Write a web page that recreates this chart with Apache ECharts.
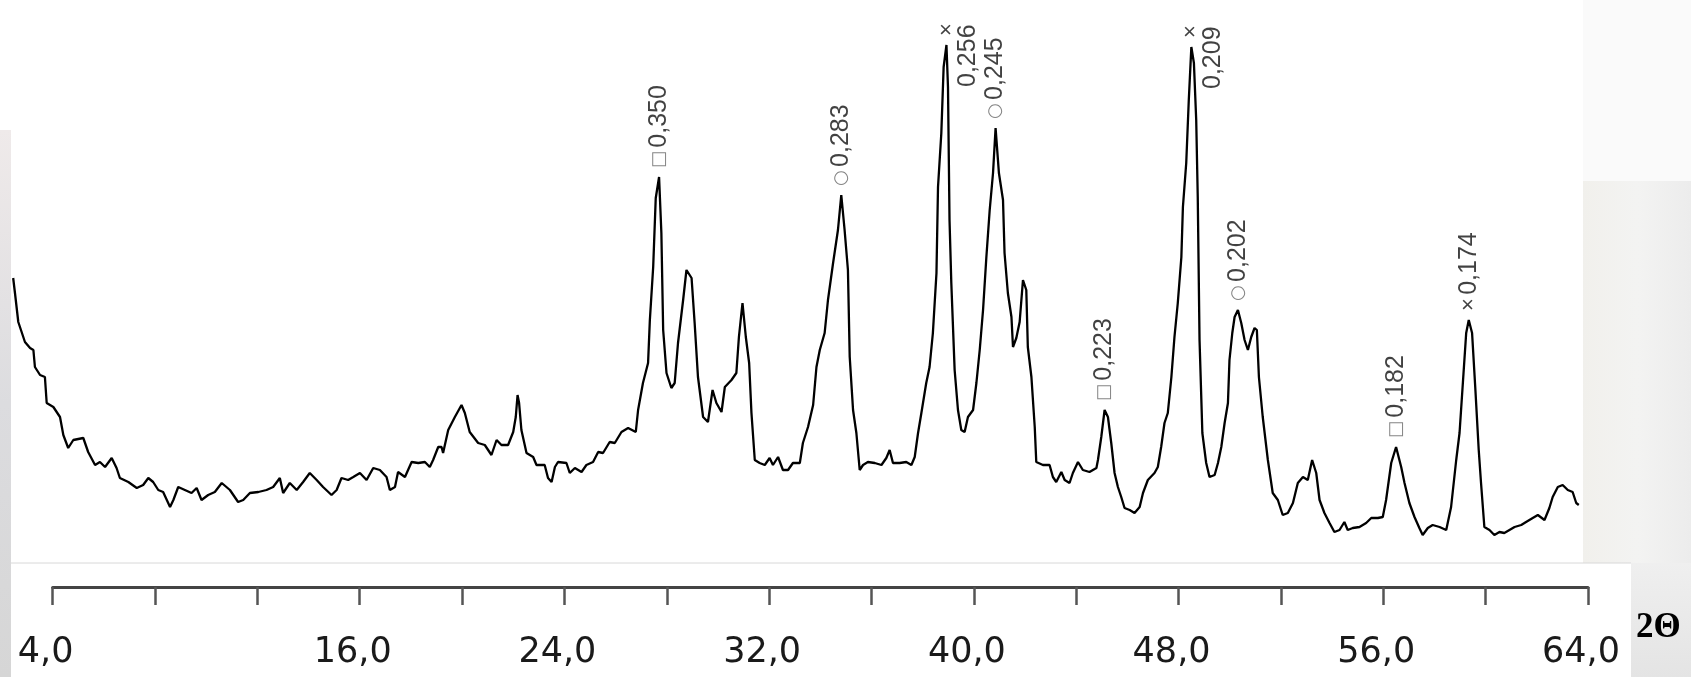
<!DOCTYPE html>
<html>
<head>
<meta charset="utf-8">
<title>XRD</title>
<script src="https://cdn.jsdelivr.net/npm/echarts@6/dist/echarts.min.js"></script>
<style>
  html, body { margin: 0; padding: 0; background: #fff; }
  #chart { width: 1691px; height: 677px; }
</style>
</head>
<body>
<div id="chart"></div>
<script>
// 2θ (degrees) and intensity (arbitrary units)
const twoTheta = [
  2.46, 2.53, 2.66, 2.79, 2.92, 3.12, 3.25, 3.31, 3.51, 3.70, 3.77, 4.03, 4.29, 4.42, 4.61, 4.81,
  5.20, 5.39, 5.66, 5.85, 6.05, 6.31, 6.50, 6.63, 6.96, 7.29, 7.54, 7.74, 7.93, 8.13, 8.32, 8.59,
  8.72, 8.91, 9.17, 9.43, 9.63, 9.82, 10.08, 10.34, 10.61, 10.93, 11.25, 11.45, 11.71, 12.04, 12.36, 12.62,
  12.88, 13.01, 13.27, 13.54, 13.79, 14.05, 14.32, 14.57, 14.90, 15.10, 15.29, 15.55, 15.75, 16.01, 16.27, 16.53,
  16.79, 17.05, 17.18, 17.38, 17.50, 17.77, 18.03, 18.29, 18.55, 18.74, 18.87, 19.07, 19.20, 19.26, 19.46, 19.72,
  19.98, 20.11, 20.30, 20.63, 20.89, 21.15, 21.35, 21.54, 21.80, 22.00, 22.10, 22.17, 22.23, 22.32, 22.52, 22.78,
  22.91, 23.23, 23.36, 23.50, 23.63, 23.75, 24.08, 24.21, 24.41, 24.67, 24.86, 25.12, 25.32, 25.51, 25.77, 25.97,
  26.23, 26.49, 26.79, 26.88, 27.07, 27.27, 27.34, 27.47, 27.57, 27.70, 27.79, 27.86, 27.99, 28.18, 28.31, 28.44,
  28.64, 28.77, 28.97, 29.09, 29.22, 29.42, 29.61, 29.79, 29.94, 30.14, 30.27, 30.53, 30.72, 30.82, 30.96, 31.09,
  31.22, 31.31, 31.44, 31.63, 31.83, 32.02, 32.15, 32.35, 32.54, 32.74, 32.93, 33.20, 33.32, 33.52, 33.72, 33.85,
  33.98, 34.17, 34.30, 34.50, 34.69, 34.82, 34.95, 35.08, 35.15, 35.28, 35.41, 35.54, 35.67, 35.86, 36.13, 36.39,
  36.58, 36.71, 36.84, 37.10, 37.36, 37.56, 37.69, 37.82, 37.95, 38.14, 38.27, 38.40, 38.54, 38.60, 38.73, 38.82,
  38.93, 38.99, 39.05, 39.12, 39.25, 39.38, 39.51, 39.64, 39.77, 39.97, 40.10, 40.23, 40.36, 40.49, 40.62, 40.75,
  40.85, 40.98, 41.14, 41.20, 41.33, 41.47, 41.53, 41.66, 41.79, 41.92, 42.05, 42.11, 42.25, 42.38, 42.44, 42.70,
  42.96, 43.09, 43.22, 43.42, 43.55, 43.74, 43.87, 44.07, 44.26, 44.52, 44.79, 44.85, 44.98, 45.11, 45.24, 45.37,
  45.50, 45.63, 45.76, 45.89, 46.09, 46.28, 46.48, 46.61, 46.80, 47.06, 47.19, 47.32, 47.45, 47.58, 47.72, 47.84,
  47.97, 48.11, 48.17, 48.30, 48.40, 48.50, 48.60, 48.69, 48.75, 48.82, 48.93, 49.08, 49.21, 49.41, 49.54, 49.67,
  49.80, 49.93, 49.99, 50.10, 50.19, 50.32, 50.45, 50.58, 50.71, 50.84, 50.97, 51.06, 51.14, 51.29, 51.49, 51.68,
  51.88, 52.07, 52.27, 52.47, 52.66, 52.86, 53.05, 53.22, 53.38, 53.51, 53.70, 53.90, 54.09, 54.29, 54.48, 54.61,
  54.81, 55.07, 55.33, 55.53, 55.79, 55.98, 56.11, 56.31, 56.50, 56.70, 56.83, 57.02, 57.22, 57.41, 57.54, 57.74,
  57.93, 58.20, 58.46, 58.65, 58.85, 58.98, 59.11, 59.24, 59.34, 59.47, 59.60, 59.73, 59.82, 59.95, 60.15, 60.34,
  60.54, 60.73, 60.93, 61.13, 61.39, 61.58, 61.84, 62.04, 62.30, 62.49, 62.62, 62.82, 63.01, 63.21, 63.40, 63.54,
  63.64
];
const intensity = [
  282, 267, 238, 228, 218, 212, 210, 193, 185, 183, 157, 153, 143, 125, 112, 120,
  122, 108, 95, 98, 93, 102, 92, 82, 78, 72, 75, 82, 78, 70, 68, 53,
  60, 73, 70, 67, 72, 60, 65, 68, 77, 70, 58, 60, 67, 68, 70, 73,
  82, 67, 77, 70, 78, 87, 80, 73, 65, 70, 82, 80, 83, 87, 80, 92,
  90, 83, 70, 73, 88, 83, 98, 97, 98, 93, 100, 113, 113, 107, 130, 143,
  155, 147, 128, 117, 115, 105, 120, 115, 115, 128, 143, 165, 157, 130, 107, 103,
  95, 95, 82, 78, 93, 98, 97, 87, 92, 88, 95, 98, 108, 107, 118, 117,
  128, 132, 128, 150, 177, 197, 240, 293, 362, 383, 327, 230, 187, 172, 177, 217,
  260, 290, 282, 237, 183, 143, 138, 170, 157, 148, 173, 180, 187, 223, 257, 223,
  197, 147, 100, 97, 95, 102, 95, 103, 90, 90, 97, 97, 117, 133, 155, 193,
  210, 227, 260, 297, 330, 365, 330, 290, 203, 150, 127, 90, 95, 98, 97, 95,
  102, 110, 97, 97, 98, 95, 103, 127, 147, 177, 193, 227, 287, 373, 427, 493,
  515, 473, 340, 277, 190, 150, 130, 128, 143, 150, 177, 210, 250, 303, 350, 387,
  432, 387, 360, 307, 267, 243, 213, 222, 238, 280, 270, 213, 183, 133, 98, 95,
  95, 83, 78, 88, 80, 77, 87, 98, 90, 88, 92, 100, 123, 150, 143, 117,
  87, 73, 63, 52, 50, 47, 53, 67, 80, 87, 93, 113, 137, 147, 183, 223,
  257, 303, 353, 397, 460, 513, 497, 440, 363, 220, 127, 97, 83, 85, 97, 113,
  137, 157, 200, 227, 243, 250, 237, 220, 210, 223, 232, 230, 183, 143, 100, 67,
  60, 45, 47, 57, 77, 83, 80, 100, 87, 60, 47, 37, 28, 30, 38, 30,
  32, 33, 37, 42, 42, 43, 60, 97, 113, 93, 77, 57, 43, 32, 25, 32,
  35, 33, 30, 53, 100, 127, 177, 227, 240, 227, 170, 110, 77, 33, 30, 25,
  28, 27, 30, 33, 35, 38, 42, 45, 40, 52, 63, 73, 75, 70, 68, 57,
  55
];

// marked reflections: position, height, d-spacing (nm) and phase mark
const peakAngles = [27.70, 34.82, 38.93, 40.85, 45.11, 48.50, 50.32, 56.50, 59.34];
const peakHeights = [383, 365, 515, 432, 150, 513, 250, 113, 240];
const peakSpacings = ['0,350', '0,283', '0,256', '0,245', '0,223', '0,209', '0,202', '0,182', '0,174'];
const peakPhases = ['□', '○', '×', '○', '□', '×', '○', '□', '×'];

// x axis ticks every 4°, only some of them labelled
const tickValues = [4, 16, 24, 32, 40, 48, 56, 64];
const tickLabels = ['4,0', '16,0', '24,0', '32,0', '40,0', '48,0', '56,0', '64,0'];

const dom = document.getElementById('chart');
const chart = echarts.init(dom, null, { renderer: 'canvas' });

const markKey = { '□': 's', '○': 'c', '×': 'x' };
const richStyles = {
  t: { fontFamily: 'Liberation Sans', fontSize: 25, color: '#111', verticalAlign: 'middle' },
  s: { fontFamily: 'DejaVu Sans', fontSize: 18, color: '#666', verticalAlign: 'middle' },
  c: { fontFamily: 'DejaVu Sans', fontSize: 18, color: '#666', verticalAlign: 'middle' },
  x: { fontFamily: 'Liberation Sans', fontSize: 22, color: '#111', verticalAlign: 'middle' }
};

const curve = twoTheta.map((a, i) => [a, intensity[i]]);

const marks = [];
const beside = [];
peakAngles.forEach((a, i) => {
  const tall = peakHeights[i] > 480;
  const k = markKey[peakPhases[i]];
  marks.push({
    value: [a, peakHeights[i]],
    label: {
      formatter: tall ? `{${k}|${peakPhases[i]}}` : `{${k}|${peakPhases[i]}} {t|${peakSpacings[i]}}`
    }
  });
  // the tallest peaks carry their value beside the peak instead of above it
  if (tall) beside.push({ value: [a + 0.85, peakHeights[i] - 42], label: { formatter: `{t|${peakSpacings[i]}}` } });
});

const rotatedLabel = (distance) => ({
  show: true,
  position: 'top',
  distance: distance,
  rotate: 90,
  align: 'left',
  verticalAlign: 'middle',
  rich: richStyles
});

const option = {
  animation: false,
  backgroundColor: '#fff',
  graphic: [
    // scraps of the page behind the scanned figure
    { type: 'rect', z: 0, silent: true, shape: { x: 0, y: 130, width: 11, height: 547 },
      style: { fill: new echarts.graphic.LinearGradient(0, 0, 0, 1, [
        { offset: 0, color: '#efeaea' }, { offset: 0.5, color: '#dcdcdf' }, { offset: 1, color: '#d6d6d6' }]) } },
    { type: 'rect', z: 0, silent: true, shape: { x: 1583, y: 0, width: 108, height: 181 },
      style: { fill: '#fafafa' } },
    { type: 'rect', z: 0, silent: true, shape: { x: 1583, y: 181, width: 108, height: 382 },
      style: { fill: new echarts.graphic.LinearGradient(0, 0, 1, 0, [
        { offset: 0, color: '#f1f0ec' }, { offset: 0.5, color: '#f3f3f2' }, { offset: 1, color: '#ececec' }]) } },
    { type: 'rect', z: 0, silent: true, shape: { x: 1631, y: 563, width: 60, height: 114 },
      style: { fill: new echarts.graphic.LinearGradient(0, 0, 0, 1, [
        { offset: 0, color: '#efefef' }, { offset: 1, color: '#e4e4e4' }]) } },
    { type: 'line', z: 0, silent: true, shape: { x1: 11, y1: 563, x2: 1631, y2: 563 },
      style: { stroke: '#d8d8d8', lineWidth: 1 } }
  ],
  grid: [
    { left: 11.64, right: 103, top: 0, height: 560 },
    { left: 52.6, right: 103, top: 557, height: 30 }
  ],
  xAxis: [
    { gridIndex: 0, type: 'value', min: 2.4, max: 64, show: false },
    {
      gridIndex: 1, type: 'value', min: 4, max: 64, interval: 4, position: 'bottom',
      name: '2Θ', nameLocation: 'end', nameGap: 48,
      nameTextStyle: { fontFamily: 'Liberation Serif', fontWeight: 'bold', fontSize: 35, color: '#000',
        verticalAlign: 'top', padding: [23, 0, 0, 0] },
      axisLine: { show: true, lineStyle: { color: '#444', width: 3 } },
      axisTick: { show: true, length: 18, lineStyle: { color: '#555', width: 2.5 } },
      splitLine: { show: false },
      axisLabel: {
        margin: 48,
        fontFamily: 'DejaVu Sans',
        fontSize: 35,
        color: '#1a1a1a',
        padding: [0, 14, 0, 0],
        formatter: v => {
          const i = tickValues.indexOf(v);
          return i < 0 ? '' : tickLabels[i];
        }
      }
    }
  ],
  yAxis: [
    { gridIndex: 0, type: 'value', min: 0, max: 560, show: false },
    { gridIndex: 1, type: 'value', min: 0, max: 1, show: false }
  ],
  series: [
    {
      name: 'XRD',
      type: 'line',
      xAxisIndex: 0,
      yAxisIndex: 0,
      data: curve,
      showSymbol: false,
      symbol: 'none',
      lineStyle: { color: '#000', width: 2.3 },
      z: 3
    },
    {
      name: 'marks',
      type: 'scatter',
      xAxisIndex: 0,
      yAxisIndex: 0,
      symbolSize: 0,
      data: marks,
      label: rotatedLabel(9),
      z: 4
    },
    {
      name: 'beside',
      type: 'scatter',
      xAxisIndex: 0,
      yAxisIndex: 0,
      symbolSize: 0,
      data: beside,
      label: rotatedLabel(0),
      z: 4
    }
  ]
};

chart.setOption(option);
window.addEventListener('resize', () => chart.resize());
</script>
</body>
</html>
